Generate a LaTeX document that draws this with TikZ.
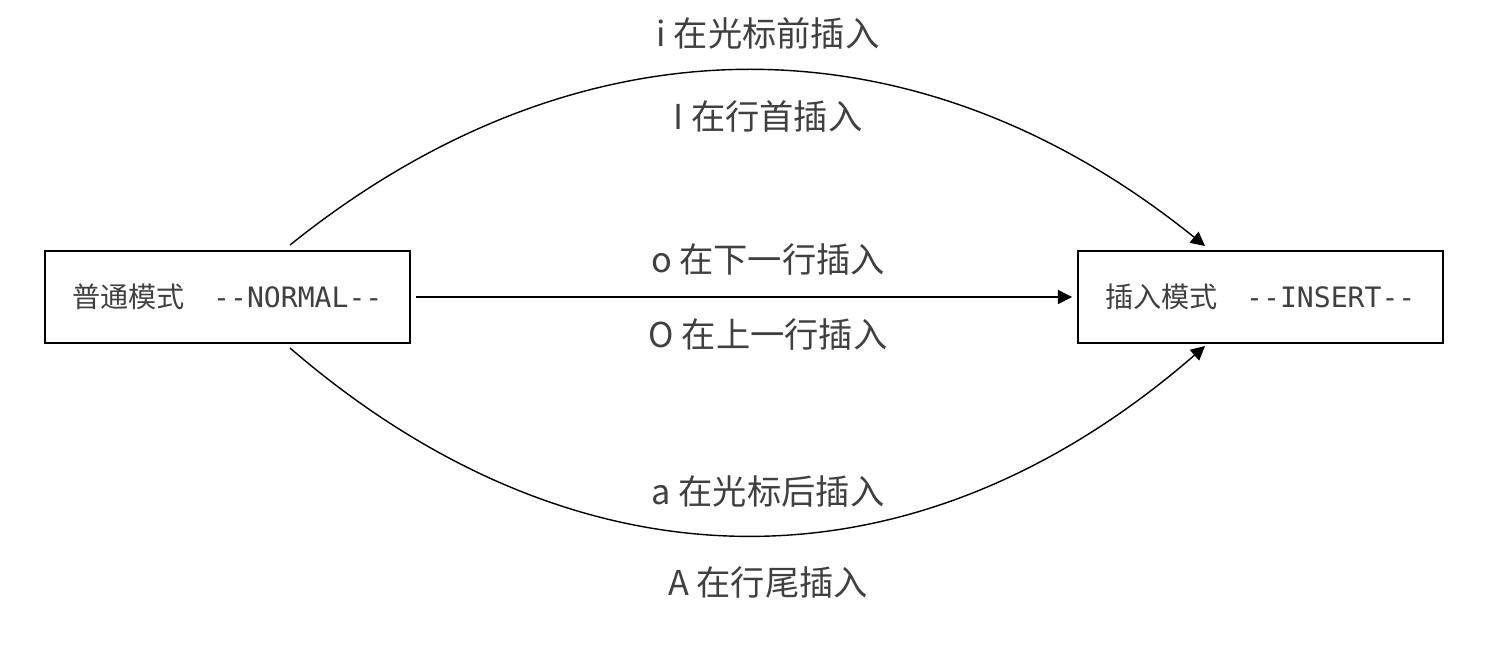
\documentclass[tikz,border=0pt]{standalone}
\usepackage{fontspec}
\setmainfont{Noto Sans CJK SC}
\newfontfamily\monofont{DejaVu Sans Mono}
\usetikzlibrary{arrows.meta}
\tikzset{
  mode/.style={draw,thick,minimum width=365*0.02cm,minimum height=92*0.02cm,text=black!75,font=\fontsize{16}{18}\selectfont},
  lbl/.style={font=\fontsize{19.5}{22}\selectfont,text=black!75},
  flow/.style={thick,-{Triangle[length=8pt,width=8pt]}}
}
\begin{document}
\begin{tikzpicture}[x=0.02cm,y=-0.02cm]
   \useasboundingbox (0,0) rectangle (1506,650);
   \node[mode] (NORMAL) at (227.5,297) {普通模式\quad{\monofont --NORMAL--}};
   \node[mode] (INSERT) at (1260.5,297) {插入模式\quad{\monofont --INSERT--}};
   \coordinate (topS) at (290,245);
   \coordinate (topE) at (1205,246);
   \coordinate (botS) at (290,348);
   \coordinate (botE) at (1205,346);

   \draw[flow] (topS) .. controls (580,12) and (915,12) .. (topE);
   \draw[flow] (NORMAL.east) ++(5,0) -- ([xshift=-3pt]INSERT.west);
   \draw[flow] (botS) .. controls (580,598) and (915,598) .. (botE);

   \node[lbl] (i) at (768,33)  {i 在光标前插入};
   \node[lbl] (I) at (768,116) {I 在行首插入};
   \node[lbl] (o) at (768,260) {o 在下一行插入};
   \node[lbl] (O) at (768,335) {O 在上一行插入};
   \node[lbl] (a) at (768,492) {a 在光标后插入};
   \node[lbl] (A) at (768,582) {A 在行尾插入};
\end{tikzpicture}
\end{document}
